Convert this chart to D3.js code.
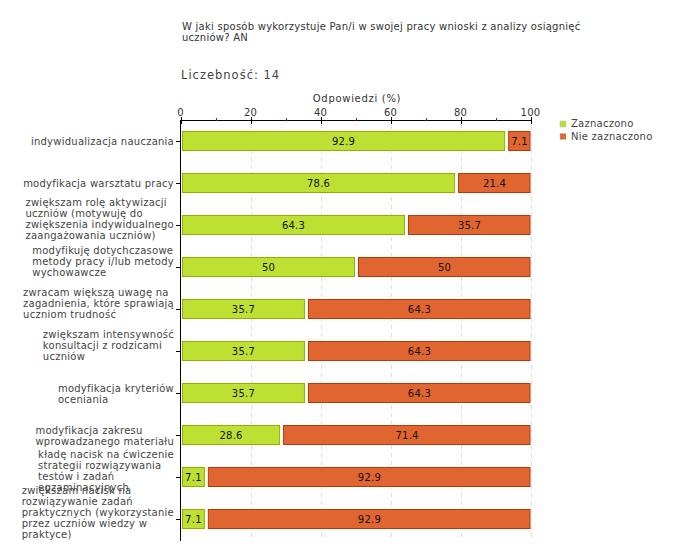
<!DOCTYPE html>
<html><head><meta charset="utf-8">
<script src="https://cdn.jsdelivr.net/npm/d3@7"></script>
<style>
body{margin:0;background:#fff;}
text{font-family:"DejaVu Sans",Verdana,sans-serif;}
</style></head>
<body><svg id="c" width="680" height="560"></svg>
<script>
const titleLines = ["W jaki sposób wykorzystuje Pan/i w swojej pracy wnioski z analizy osiągnięć", "uczniów? AN"];
const countLabel = "Liczebność: 14";
const axisTitle = "Odpowiedzi (%)";
const categories = [
  ["indywidualizacja nauczania"],
  ["modyfikacja warsztatu pracy"],
  ["zwiększam rolę aktywizacji","uczniów (motywuję do","zwiększenia indywidualnego","zaangażowania uczniów)"],
  ["modyfikuję dotychczasowe","metody pracy i/lub metody","wychowawcze"],
  ["zwracam większą uwagę na","zagadnienia, które sprawiają","uczniom trudność"],
  ["zwiększam intensywność","konsultacji z rodzicami","uczniów"],
  ["modyfikacja kryteriów","oceniania"],
  ["modyfikacja zakresu","wprowadzanego materiału"],
  ["kładę nacisk na ćwiczenie","strategii rozwiązywania","testów i zadań","egzaminacyjnych"],
  ["zwiększam nacisk na","rozwiązywanie zadań","praktycznych (wykorzystanie","przez uczniów wiedzy w","praktyce)"]
];
const zaznaczono = [92.9, 78.6, 64.3, 50, 35.7, 35.7, 35.7, 28.6, 7.1, 7.1];
const nieZaznaczono = [7.1, 21.4, 35.7, 50, 64.3, 64.3, 64.3, 71.4, 92.9, 92.9];
const seriesNames = ["Zaznaczono", "Nie zaznaczono"];
const tickValues = [0, 20, 40, 60, 80, 100];
const minorTicks = [10, 30, 50, 70, 90];

const colors = [{fill:"#bee032", stroke:"#8fb000"}, {fill:"#e06530", stroke:"#b53a05"}];

const svg = d3.select("#c");
const x = d3.scaleLinear().domain([0,100]).range([180.5, 530.5]);
const idx = categories.map((d,i)=>i);
const y = d3.scaleBand().domain(idx).range([120,540]).paddingInner(0.5238).paddingOuter(0.2619);

// title
svg.append("text").attr("x",182).attr("y",30).attr("font-size",10).attr("letter-spacing",0.25).attr("fill","#333")
  .selectAll("tspan").data(titleLines).join("tspan").attr("x",182).attr("dy",(d,i)=>i?11:0).text(d=>d);
svg.append("text").attr("x",181).attr("y",79).attr("font-size",11.5).attr("letter-spacing",1).attr("fill","#444").text(countLabel);
svg.append("text").attr("x",357).attr("y",102).attr("text-anchor","middle").attr("font-size",10).attr("letter-spacing",0.7).attr("fill","#333").text(axisTitle);

// grid
svg.append("g").selectAll("line").data(tickValues.filter(v=>v>0)).join("line")
  .attr("x1",d=>Math.round(x(d))+0.5).attr("x2",d=>Math.round(x(d))+0.5).attr("y1",125).attr("y2",541)
  .attr("stroke","#dcdcdc").attr("stroke-dasharray","4,4");

// bars
const stacks = categories.map((c,i)=>[
  {s:0, v:zaznaczono[i], k:0, i},
  {s:zaznaczono[i], v:nieZaznaczono[i], k:1, i}
]).flat();
const bars = svg.append("g");
bars.selectAll("rect").data(stacks).join("rect")
  .attr("x",d=> d.k===0 ? x(d.s)+2 : x(d.s)+3)
  .attr("width",d=> d.k===0 ? x(d.s+d.v)-x(d.s)-3 : x(d.s+d.v)-x(d.s)-3.5)
  .attr("y",d=>Math.round(y(d.i))+0.5).attr("height",Math.round(y.bandwidth())-1)
  .attr("fill",d=>colors[d.k].fill).attr("stroke",d=>colors[d.k].stroke);
bars.selectAll("text").data(stacks).join("text")
  .attr("x",d=> d.k===0 ? (x(d.s)+2 + x(d.s+d.v)-1)/2 : (x(d.s)+3 + x(d.s+d.v))/2)
  .attr("y",d=>y(d.i)+y.bandwidth()/2+4)
  .attr("text-anchor","middle").attr("font-size",10).attr("letter-spacing",0.25).attr("fill","#111")
  .text(d=>String(d.v));

// top axis
const ax = svg.append("g");
ax.append("line").attr("x1",180).attr("x2",531).attr("y1",120.5).attr("y2",120.5).attr("stroke","#000");
ax.selectAll("line.mj").data(tickValues).join("line").attr("class","mj")
  .attr("x1",d=>Math.round(x(d))+0.5).attr("x2",d=>Math.round(x(d))+0.5).attr("y1",117).attr("y2",124).attr("stroke","#000");
ax.selectAll("line.mn").data(minorTicks).join("line").attr("class","mn")
  .attr("x1",d=>Math.round(x(d))+0.5).attr("x2",d=>Math.round(x(d))+0.5).attr("y1",118).attr("y2",121).attr("stroke","#e00000");
ax.selectAll("text").data(tickValues).join("text")
  .attr("x",d=>x(d)).attr("y",116).attr("text-anchor","middle").attr("font-size",10).attr("letter-spacing",0.25).attr("fill","#333")
  .text(d=>d);

// left axis
svg.append("line").attr("x1",180.5).attr("x2",180.5).attr("y1",120).attr("y2",541).attr("stroke","#000");
svg.append("g").selectAll("line").data(idx).join("line")
  .attr("x1",176).attr("x2",180).attr("y1",d=>Math.round(y(d)+y.bandwidth()/2)+0.5).attr("y2",d=>Math.round(y(d)+y.bandwidth()/2)+0.5).attr("stroke","#000");

// category labels
const lg = svg.append("g");
categories.forEach((lines,i)=>{
  const n = lines.length;
  const cy = y(i)+y.bandwidth()/2;
  const off = n>2 ? -(5+0.5*(n-1)) : 0;
  const t = lg.append("text").attr("font-size",10).attr("letter-spacing",0.25).attr("fill","#444");
  const spans = t.selectAll("tspan").data(lines).join("tspan")
    .attr("y",(d,j)=>cy+4+off+(j-(n-1)/2)*11).text(d=>d);
  let maxw = 0;
  spans.each(function(){ maxw = Math.max(maxw, this.getComputedTextLength()); });
  spans.attr("x",174-maxw);
});

// legend
const leg = svg.append("g");
seriesNames.forEach((s,i)=>{
  leg.append("rect").attr("x",560).attr("y",121+i*12.5).attr("width",6).attr("height",6)
    .attr("fill",colors[i].fill).attr("stroke","#bbb").attr("stroke-width",0.5);
  leg.append("text").attr("x",571).attr("y",127+i*12.5).attr("font-size",10).attr("letter-spacing",0.25).attr("fill","#444").text(s);
});
</script></body></html>
